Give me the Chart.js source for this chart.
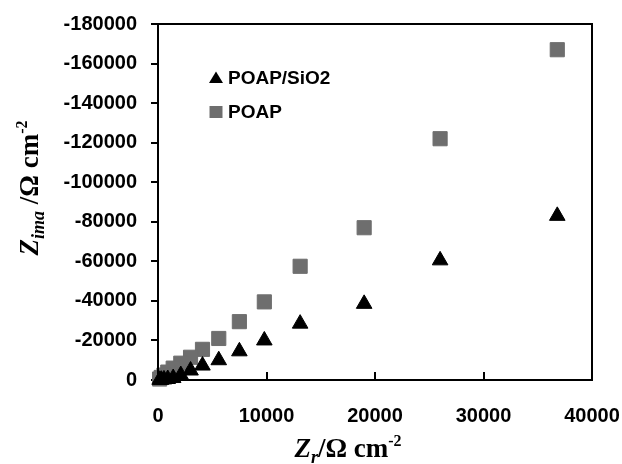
<!DOCTYPE html>
<html>
<head>
<meta charset="utf-8">
<script src="https://cdn.jsdelivr.net/npm/chart.js@4/dist/chart.umd.min.js"></script>
<style>
html,body{margin:0;padding:0;background:#fff;}
#wrap{width:622px;height:464px;position:relative;}
</style>
</head>
<body>
<div id="wrap"><canvas id="c" width="622" height="464"></canvas></div>
<script>
// Data
const zReal = [36800, 26000, 19000, 13100, 9800, 7500, 5600, 4100, 3000, 2100, 1400, 900, 550, 300, 150];
const zImagPOAP = [-167000, -122000, -77000, -57500, -39500, -29500, -21000, -15500, -11500, -8500, -6000, -4000, -2500, -1300, -500];
const zImagPOAPSiO2 = [-83000, -60500, -38500, -28500, -20000, -14500, -10000, -7300, -4800, -2500, -1000, -500, -300, -150, -80];
const seriesNames = ['POAP/SiO2', 'POAP'];
const xTicks = [0, 10000, 20000, 30000, 40000];
const yTicks = [-180000, -160000, -140000, -120000, -100000, -80000, -60000, -40000, -20000, 0];

const pts = (ys) => zReal.map((x, i) => ({x: x, y: ys[i]}));

const frame = {
  id: 'frame',
  afterDraw(chart) {
    const ctx = chart.ctx, a = chart.chartArea, xs = chart.scales.x;
    ctx.save();
    ctx.strokeStyle = '#000';
    ctx.lineWidth = 2;
    ctx.strokeRect(a.left, a.top, a.right - a.left, a.bottom - a.top);
    // inward ticks on the x axis
    ctx.beginPath();
    xTicks.forEach(v => {
      const px = Math.round(xs.getPixelForValue(v));
      ctx.moveTo(px, a.bottom);
      ctx.lineTo(px, a.bottom - 8);
    });
    ctx.stroke();

    // legend
    const items = chart.data.datasets;
    const lx = 216, ly = [78, 112];
    ctx.font = 'bold 19px "Liberation Sans", Arial, sans-serif';
    ctx.textBaseline = 'middle';
    ctx.textAlign = 'left';
    items.forEach((ds, i) => {
      ctx.fillStyle = ds.backgroundColor;
      ctx.beginPath();
      if (ds.pointStyle === 'triangle') {
        ctx.moveTo(lx, ly[i] - 6.5);
        ctx.lineTo(lx + 7, ly[i] + 5);
        ctx.lineTo(lx - 7, ly[i] + 5);
        ctx.closePath();
      } else {
        ctx.rect(lx - 6.5, ly[i] - 6, 13, 12);
      }
      ctx.fill();
      ctx.fillStyle = '#000';
      ctx.fillText(ds.label, 228, ly[i] + 1);
    });

    // axis titles with sub/superscripts
    const serif = '"Liberation Serif", "Times New Roman", serif';
    const parts = (t) => [
      {s: 'Z', f: 'italic bold 27px ' + serif, dy: 0},
      {s: t, f: 'italic bold 18px ' + serif, dy: 6},
      {s: t === 'r' ? '/Ω cm' : ' /Ω cm', f: 'bold 27px ' + serif, dy: 0},
      {s: '-2', f: 'bold 16px ' + serif, dy: -11}
    ];
    function drawParts(list, cx, baseY) {
      let w = 0;
      list.forEach(p => { ctx.font = p.f; p.w = ctx.measureText(p.s).width; w += p.w; });
      let x = cx - w / 2;
      ctx.textBaseline = 'alphabetic';
      ctx.textAlign = 'left';
      ctx.fillStyle = '#000';
      list.forEach(p => { ctx.font = p.f; ctx.fillText(p.s, x, baseY + p.dy); x += p.w; });
    }
    drawParts(parts('r'), 348, 457);
    ctx.save();
    ctx.translate(38, 188);
    ctx.rotate(-Math.PI / 2);
    drawParts(parts('ima'), 0, 0);
    ctx.restore();
    ctx.restore();
  }
};

new Chart(document.getElementById('c'), {
  type: 'scatter',
  data: {
    datasets: [
      {
        label: seriesNames[0],
        data: pts(zImagPOAPSiO2),
        pointStyle: 'triangle',
        pointRadius: 9,
        backgroundColor: '#000',
        borderColor: '#000',
        borderWidth: 1,
        clip: false
      },
      {
        label: seriesNames[1],
        data: pts(zImagPOAP),
        pointStyle: 'rect',
        pointRadius: 10,
        backgroundColor: '#6e6e6e',
        borderColor: '#6e6e6e',
        borderWidth: 1,
        clip: false
      }
    ]
  },
  options: {
    responsive: false,
    animation: false,
    devicePixelRatio: 1,
    layout: {padding: {top: 24, right: 30, left: 0, bottom: 0}},
    plugins: {legend: {display: false}, tooltip: {enabled: false}},
    scales: {
      x: {
        type: 'linear',
        min: 0, max: 40000,
        afterBuildTicks: s => { s.ticks = xTicks.map(v => ({value: v})); },
        afterFit: s => { s.height = 84; s.paddingLeft = 0; s.paddingRight = 0; },
        grid: {display: false},
        border: {display: true, color: '#000', width: 2},
        ticks: {
          padding: 16,
          color: '#000',
          font: {family: '"Liberation Sans", Arial, sans-serif', weight: 'bold', size: 20},
          callback: v => String(v),
          maxRotation: 0
        }
      },
      y: {
        type: 'linear',
        reverse: true,
        min: -180000, max: 0,
        afterBuildTicks: s => { s.ticks = yTicks.map(v => ({value: v})); },
        afterFit: s => { s.width = 158; s.paddingTop = 0; s.paddingBottom = 0; },
        grid: {drawOnChartArea: false, drawTicks: true, tickLength: 7, color: '#000', lineWidth: 2},
        border: {display: true, color: '#000', width: 2},
        ticks: {
          padding: 14,
          color: '#000',
          font: {family: '"Liberation Sans", Arial, sans-serif', weight: 'bold', size: 20},
          callback: v => String(v)
        }
      }
    }
  },
  plugins: [frame]
});
</script>
</body>
</html>
